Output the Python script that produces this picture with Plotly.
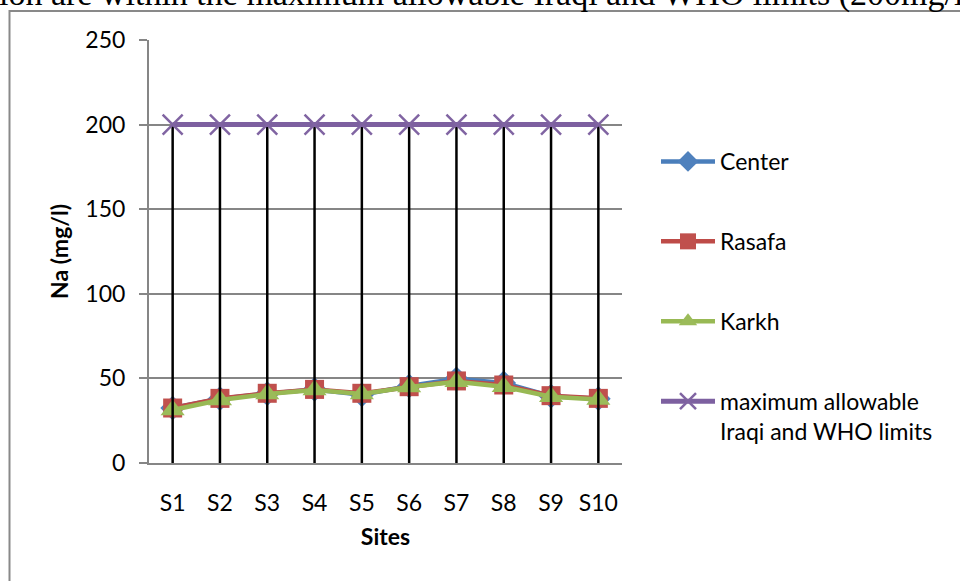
import plotly.graph_objects as go

sites = ["S1", "S2", "S3", "S4", "S5", "S6", "S7", "S8", "S9", "S10"]
center = [32.5, 38.0, 41, 43.5, 40.3, 45.5, 49.8, 47.3, 39.5, 38]
rasafa = [32.5, 38.2, 41.2, 43.5, 41.2, 45.1, 48.5, 46.1, 39.8, 38.2]
karkh = [31.3, 37.2, 40.8, 43.1, 40.8, 44.9, 48.0, 45.1, 39.2, 37.6]
limit = [200] * 10
y_ticks = [0, 50, 100, 150, 200, 250]

FONT = "Lato"
W, H = 960, 581
L, R, T, B = 149, 622, 40, 463


def px(x):
    return (x - L) / (R - L)


def py(y):
    return (B - y) / (B - T)


fig = go.Figure()

series = [
    ("Center", center, "#4A7EBB", "#4F81BD", "diamond"),
    ("Rasafa", rasafa, "#BE4B48", "#C0504D", "square"),
    ("Karkh", karkh, "#98B954", "#9BBB59", "triangle-up"),
]
for name, vals, lc, mc, sym in series:
    fig.add_trace(go.Scatter(
        x=sites, y=vals, name=name, mode="lines+markers",
        line=dict(color=lc, width=4.5),
        marker=dict(symbol=sym, size=19 if sym != "triangle-up" else 21, color=mc,
                    line=dict(width=0)),
        legendgroup=name,
    ))

# drop lines from the highest series value down to the axis
all_series = [center, rasafa, karkh, limit]
dx, dy = [], []
for j, s in enumerate(sites):
    top = max(ser[j] for ser in all_series)
    dx += [s, s, None]
    dy += [0, top, None]
fig.add_trace(go.Scatter(x=dx, y=dy, mode="lines", line=dict(color="black", width=2.5),
                         showlegend=False, hoverinfo="skip"))

fig.add_trace(go.Scatter(
    x=sites, y=limit, name="maximum allowable<br>Iraqi and WHO limits",
    mode="lines+markers",
    line=dict(color="#7D60A0", width=5),
    marker=dict(symbol="x-thin", size=20, color="#8064A2",
                line=dict(width=2.5, color="#8064A2")),
    legendgroup="limit",
))

fig.update_layout(
    width=W, height=H,
    margin=dict(l=L, r=W - R, t=T, b=H - B, autoexpand=False),
    paper_bgcolor="white", plot_bgcolor="white",
    font=dict(family=FONT, size=23, color="black"),
    showlegend=True,
    legend=dict(
        x=px(656), y=py(140), xanchor="left", yanchor="top",
        font=dict(family=FONT, size=23, color="black"),
        tracegroupgap=47, traceorder="grouped", valign="top",
        bgcolor="rgba(0,0,0,0)", itemwidth=54,
    ),
    xaxis=dict(
        type="category", range=[-0.5, 9.5], showgrid=False,
        showline=True, linecolor="#868686", linewidth=2,
        ticks="", ticklabelstandoff=18,
        tickfont=dict(family=FONT, size=23),
        title=dict(text="<b>Sites</b>", font=dict(family=FONT, size=23), standoff=14),
        zeroline=False,
    ),
    yaxis=dict(
        range=[0, 250], tickvals=y_ticks, showgrid=True, gridcolor="#868686", gridwidth=1.5,
        showline=True, linecolor="#868686", linewidth=2,
        ticks="outside", ticklen=8, tickcolor="#868686", tickwidth=1.5,
        ticklabelstandoff=9,
        tickfont=dict(family=FONT, size=23),
        title=dict(text="<b>Na (mg/l)</b>", font=dict(family=FONT, size=23), standoff=10),
        zeroline=False,
    ),
)

# outer chart frame (partly outside the picture)
fig.add_shape(type="rect", xref="paper", yref="paper",
              x0=px(9.5), x1=px(990), y0=py(620), y1=py(11),
              line=dict(color="#898989", width=2), fillcolor="rgba(0,0,0,0)", layer="below")

# clipped document text above the chart
fig.add_annotation(
    xref="paper", yref="paper", x=px(-3), y=py(-6), xanchor="left", yanchor="middle",
    text="ion are within the maximum allowable Iraqi and WHO limits (200mg/l) and",
    showarrow=False, font=dict(family="Liberation Serif", size=34, color="black"),
)

fig.write_html(
    "out.html",
    config={"displayModeBar": False},
    post_script="document.body.style.margin='0';document.body.style.overflow='hidden';",
)
